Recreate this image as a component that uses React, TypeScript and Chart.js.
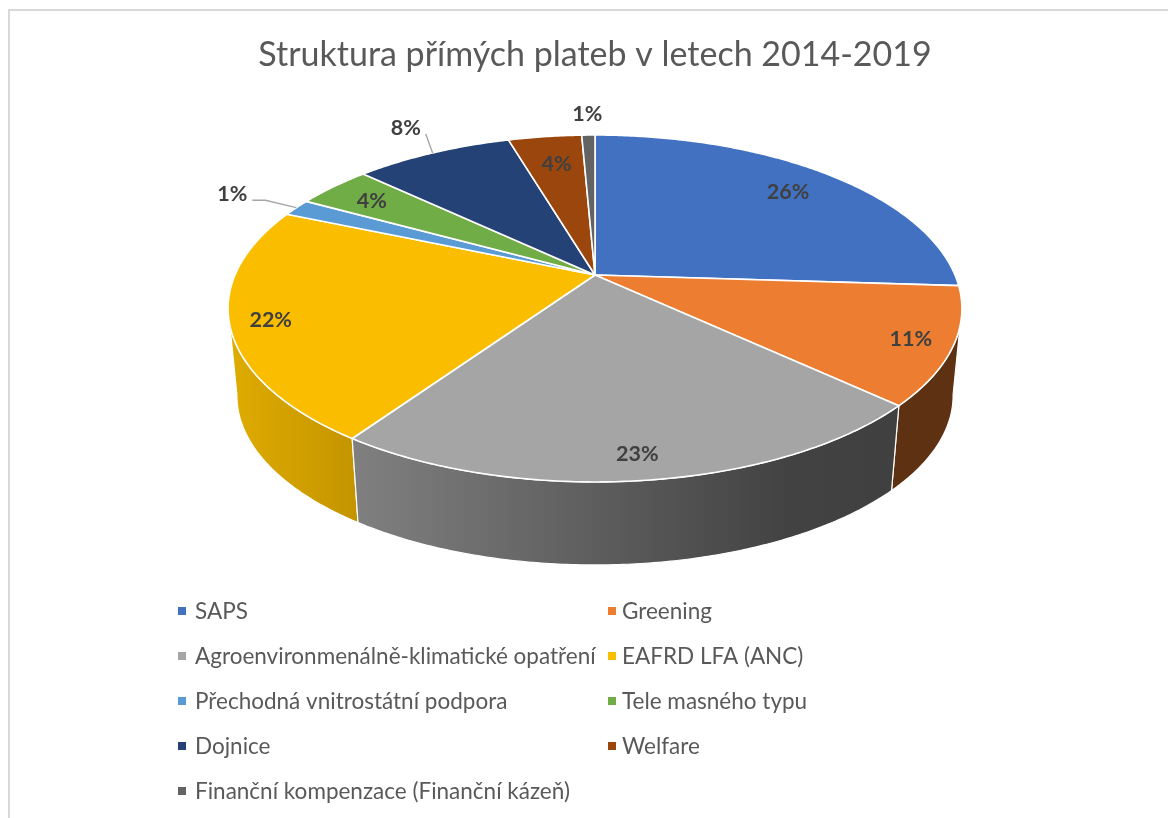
import React, { useEffect, useRef } from "react";
import { Chart, registerables } from "chart.js";

Chart.register(...registerables);

const titleText = "Struktura přímých plateb v letech 2014-2019";
const categories = [
  "SAPS",
  "Greening",
  "Agroenvironmenálně-klimatické opatření",
  "EAFRD LFA (ANC)",
  "Přechodná vnitrostátní podpora",
  "Tele masného typu",
  "Dojnice",
  "Welfare",
  "Finanční kompenzace (Finanční kázeň)",
];
const shares = [26.0, 10.9, 22.7, 21.8, 1.6, 4.0, 8.4, 3.9, 0.7];
const shareLabels = ["26%", "11%", "23%", "22%", "1%", "4%", "8%", "4%", "1%"];
const sliceColors = ["#4271C2", "#EC7D31", "#A5A5A5", "#FBBD00", "#5B9BD5", "#70AD47", "#244275", "#9B460D", "#636363"];
const wallStops: Record<number, string[]> = {
  1: ["#5D3112", "#5D3112"],
  2: ["#808080", "#424242", "#404040"],
  3: ["#DFAC00", "#C49400"],
};
const labelRadii = [0.815, 0.89, 0.889, 0.893, 1.237, 0.839, 1.243, 0.779, 1.19];
const labelNudgeDeg = [0, 0, 0, 0, 0, 0, 1.0, 0.5, 0];

const FONT = "Lato, 'Open Sans', sans-serif";
const G = { cx: 595, cy: 275, a: 360, b: 167, k: 0.193, wallCy: 363, wallScale: 0.976 };

function project(theta: number, r: number, wall = false) {
  const u = r * Math.sin(theta);
  const v = r * Math.cos(theta);
  const w = 1 + G.k * v;
  const x = (G.a * u) / w;
  const y = (G.b * v) / w;
  return wall
    ? { x: G.cx + G.wallScale * x, y: G.wallCy - G.wallScale * y }
    : { x: G.cx + x, y: G.cy - y };
}

function sampleAngles(a0: number, a1: number) {
  const n = Math.max(2, Math.ceil(Math.abs(a1 - a0) / 0.01));
  const out: number[] = [];
  for (let i = 0; i <= n; i++) out.push(a0 + ((a1 - a0) * i) / n);
  return out;
}

const perspectivePie = {
  id: "perspectivePie",
  beforeDatasetsDraw(chart: any) {
    const ctx = chart.ctx as CanvasRenderingContext2D;
    const arcs = chart.getDatasetMeta(0).data;
    const toTheta = (a: number) => a + Math.PI / 2;
    const wallMin = Math.PI * 0.56;
    const wallMax = Math.PI * 1.44;

    ctx.save();
    ctx.lineJoin = "round";

    // side walls
    [3, 1, 2].forEach((i) => {
      const arc = arcs[i];
      const t0 = Math.max(toTheta(arc.startAngle), wallMin);
      const t1 = Math.min(toTheta(arc.endAngle), wallMax);
      if (t1 <= t0) return;
      const angles = sampleAngles(t0, t1);
      const top = angles.map((t) => project(t, 1));
      const bottom = angles.map((t) => project(t, 1, true));
      const xs = [...top, ...bottom].map((p) => p.x);
      const grad = ctx.createLinearGradient(Math.min(...xs), 0, Math.max(...xs), 0);
      const stops = wallStops[i];
      if (stops.length === 3) {
        grad.addColorStop(0, stops[0]);
        grad.addColorStop(0.8, stops[1]);
        grad.addColorStop(1, stops[2]);
      } else {
        grad.addColorStop(0, stops[0]);
        grad.addColorStop(1, stops[1]);
      }
      ctx.beginPath();
      top.forEach((p, j) => (j ? ctx.lineTo(p.x, p.y) : ctx.moveTo(p.x, p.y)));
      bottom.reverse().forEach((p) => ctx.lineTo(p.x, p.y));
      ctx.closePath();
      ctx.fillStyle = grad;
      ctx.fill();
      ctx.strokeStyle = "#ffffff";
      ctx.lineWidth = 1.2;
      ctx.stroke();
    });

    // top face
    arcs.forEach((arc: any, i: number) => {
      const angles = sampleAngles(toTheta(arc.startAngle), toTheta(arc.endAngle));
      ctx.beginPath();
      ctx.moveTo(G.cx, G.cy);
      angles.forEach((t) => {
        const p = project(t, 1);
        ctx.lineTo(p.x, p.y);
      });
      ctx.closePath();
      ctx.fillStyle = sliceColors[i];
      ctx.fill();
      ctx.strokeStyle = "#ffffff";
      ctx.lineWidth = 1.6;
      ctx.stroke();
    });
    ctx.restore();
    return false;
  },
  afterDraw(chart: any) {
    const ctx = chart.ctx as CanvasRenderingContext2D;
    const arcs = chart.getDatasetMeta(0).data;
    const labelPoint = (arc: any, i: number) => {
      const mid = (arc.startAngle + arc.endAngle) / 2 + Math.PI / 2;
      return project(mid + (labelNudgeDeg[i] * Math.PI) / 180, labelRadii[i]);
    };
    ctx.save();

    // leader lines for outside labels
    arcs.forEach((arc: any, i: number) => {
      if (i !== 4 && i !== 6) return;
      const mid = (arc.startAngle + arc.endAngle) / 2 + Math.PI / 2;
      const l = labelPoint(arc, i);
      const edge = project(mid, 1);
      ctx.beginPath();
      if (i === 4) {
        ctx.moveTo(l.x + 20, l.y + 7);
        ctx.lineTo(l.x + 33, l.y + 7);
        ctx.lineTo(edge.x, edge.y);
      } else {
        ctx.moveTo(l.x + 20, l.y + 7);
        ctx.lineTo(edge.x, edge.y);
      }
      ctx.strokeStyle = "#A6A6A6";
      ctx.lineWidth = 1.4;
      ctx.stroke();
    });

    // value labels
    ctx.font = `bold 21.5px ${FONT}`;
    ctx.fillStyle = "#404040";
    ctx.textAlign = "center";
    ctx.textBaseline = "middle";
    arcs.forEach((arc: any, i: number) => {
      const p = labelPoint(arc, i);
      ctx.fillText(shareLabels[i], p.x, p.y + 1);
    });

    // two-column legend
    ctx.font = `22.5px ${FONT}`;
    ctx.textAlign = "left";
    categories.forEach((name, i) => {
      const col = i % 2;
      const row = Math.floor(i / 2);
      const y = 611 + row * 45;
      const mx = col === 0 ? 178 : 608;
      ctx.fillStyle = sliceColors[i];
      ctx.fillRect(mx, y - 4, 8, 8);
      ctx.fillStyle = "#595959";
      ctx.fillText(name, col === 0 ? 195 : 622, y + 1);
    });
    ctx.restore();
  },
};

export default function App() {
  const ref = useRef<HTMLCanvasElement>(null);
  useEffect(() => {
    document.body.style.background = "#ffffff";
    const chart = new Chart(ref.current as HTMLCanvasElement, {
      type: "pie",
      data: {
        labels: categories,
        datasets: [{ data: shares, backgroundColor: sliceColors, borderColor: "#ffffff" }],
      },
      options: {
        responsive: false,
        animation: false,
        layout: { padding: { left: 22 } },
        plugins: {
          legend: { display: false },
          tooltip: { enabled: false },
          title: {
            display: true,
            text: titleText,
            color: "#595959",
            font: { family: FONT, size: 34, weight: "normal" },
            padding: { top: 35, bottom: 10 },
          },
        },
      },
      plugins: [perspectivePie],
    } as any);
    return () => chart.destroy();
  }, []);
  return (
    <div style={{ position: "fixed", left: 0, top: 0, width: 1168, height: 818, overflow: "hidden", background: "#fff" }}>
      <canvas ref={ref} width={1168} height={818} style={{ position: "absolute", left: 0, top: 0 }} />
      <div style={{ position: "absolute", left: 8, top: 9, right: 0, bottom: 0, borderLeft: "2px solid #D9D9D9", borderTop: "2px solid #D9D9D9", pointerEvents: "none" }} />
    </div>
  );
}
